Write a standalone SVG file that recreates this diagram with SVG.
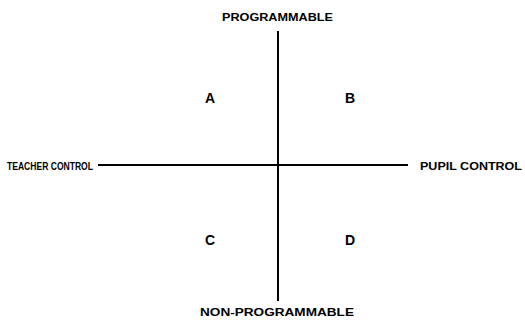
<svg xmlns="http://www.w3.org/2000/svg" width="525" height="323" viewBox="0 0 525 323">
<style>
.lbl{font-family:"Liberation Sans",Arial,sans-serif;font-weight:bold;font-size:11px;fill:#000}
.q{font-family:"Liberation Sans",Arial,sans-serif;font-weight:bold;font-size:14px;fill:#000;text-anchor:middle}
.ax{stroke:#000;stroke-width:2;fill:none}
</style>
<rect width="525" height="323" fill="#fff"/>
<g id="connectors">
<line class="ax" x1="278" y1="31" x2="278" y2="301"/>
<line class="ax" x1="98" y1="165" x2="408" y2="165"/>
</g>
<g id="top"><text class="lbl" x="222" y="21" textLength="111" lengthAdjust="spacingAndGlyphs">PROGRAMMABLE</text></g>
<g id="bottom"><text class="lbl" x="200" y="316" textLength="154" lengthAdjust="spacingAndGlyphs">NON-PROGRAMMABLE</text></g>
<g id="left"><text class="lbl" x="7" y="170" textLength="86" lengthAdjust="spacingAndGlyphs">TEACHER CONTROL</text></g>
<g id="right"><text class="lbl" x="420" y="170" textLength="102" lengthAdjust="spacingAndGlyphs">PUPIL CONTROL</text></g>
<g id="A"><text class="q" x="210" y="103">A</text></g>
<g id="B"><text class="q" x="350" y="103">B</text></g>
<g id="C"><text class="q" x="210" y="245">C</text></g>
<g id="D"><text class="q" x="350" y="245">D</text></g>
</svg>
